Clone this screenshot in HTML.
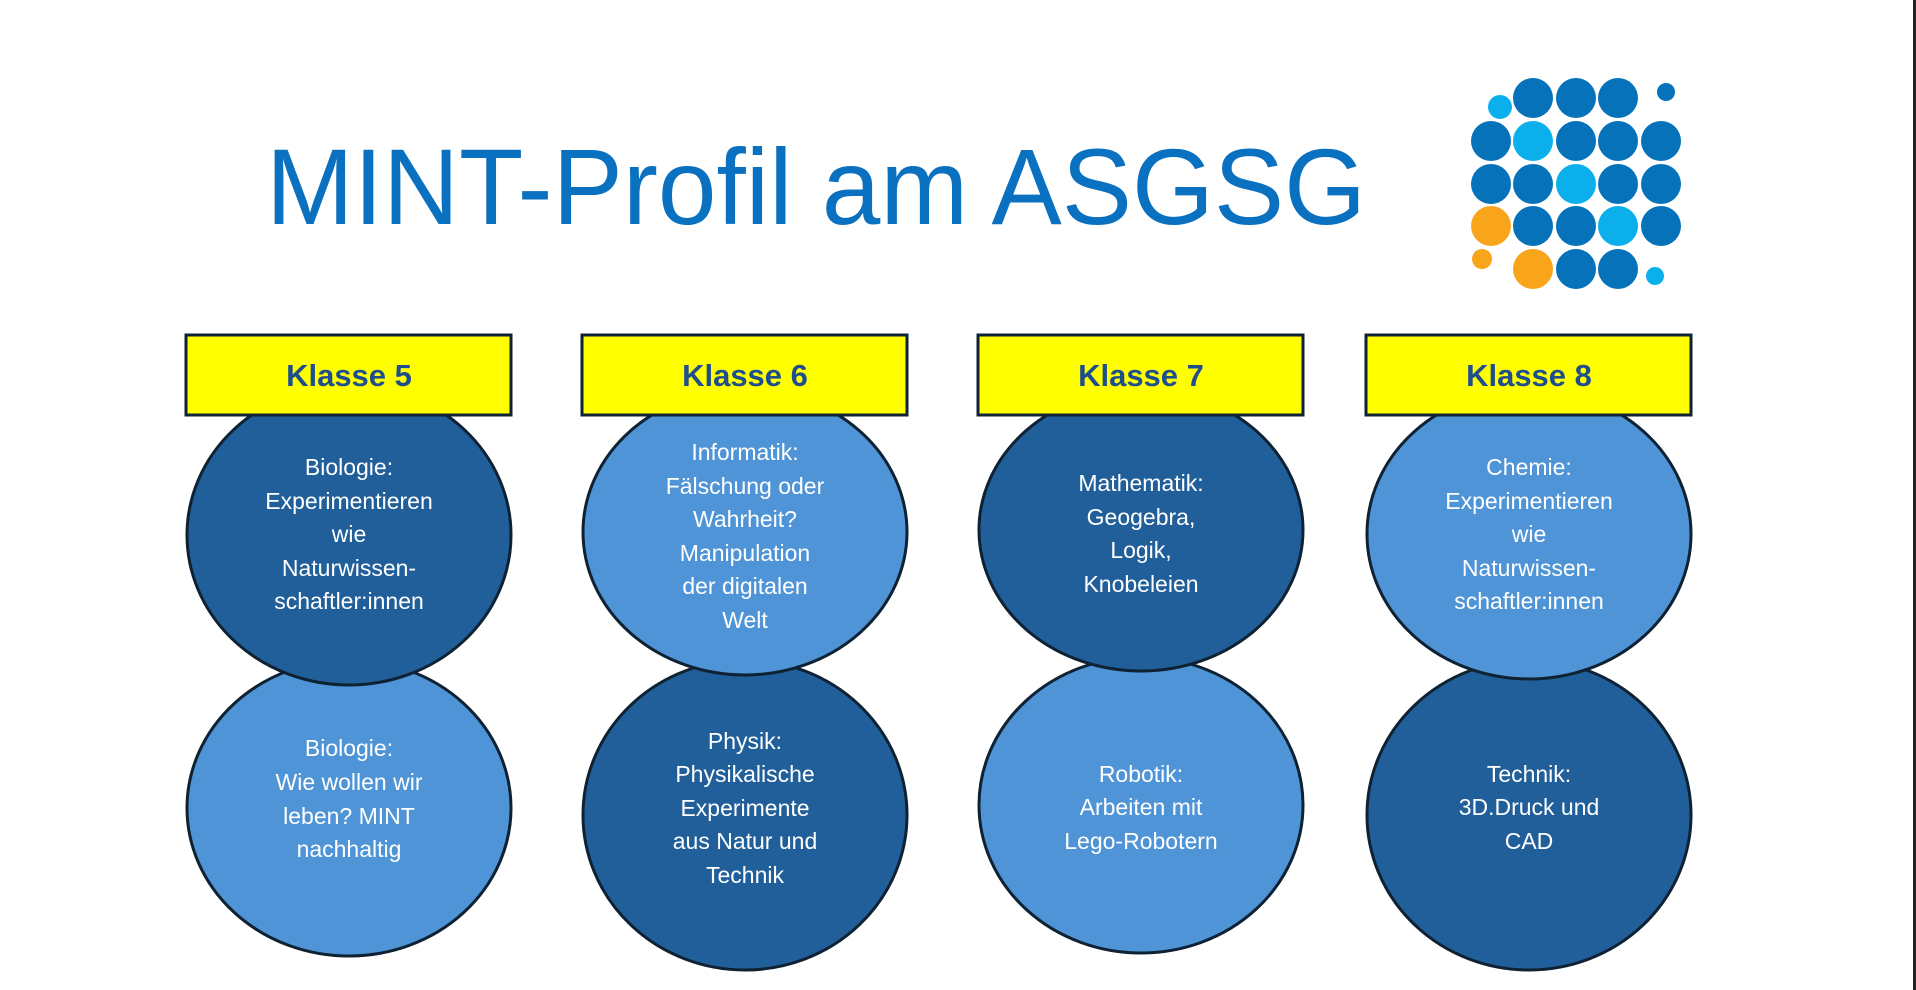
<!DOCTYPE html>
<html><head><meta charset="utf-8"><style>
body{margin:0;background:#fff;}
svg{display:block;font-family:"Liberation Sans",sans-serif;}
.t{fill:#fff;font-size:23px;text-anchor:middle;}
.h{fill:#1F4E8C;font-size:31px;font-weight:bold;text-anchor:middle;}
</style></head><body>
<svg width="1916" height="990" viewBox="0 0 1916 990">
<rect width="1916" height="990" fill="#fff"/>
<line x1="1914.5" y1="0" x2="1914.5" y2="990" stroke="#222" stroke-width="3"/>
<text x="816" y="224" fill="#0A70C0" font-size="108" text-anchor="middle" textLength="1100" lengthAdjust="spacingAndGlyphs">MINT-Profil am ASGSG</text>
<g>
<circle cx="1533" cy="98" r="20" fill="#0572BA"/><circle cx="1576" cy="98" r="20" fill="#0572BA"/><circle cx="1618" cy="98" r="20" fill="#0572BA"/>
<circle cx="1500" cy="107" r="12" fill="#0AAFEC"/><circle cx="1666" cy="92" r="9" fill="#0572BA"/>
<circle cx="1491" cy="141" r="20" fill="#0572BA"/><circle cx="1533" cy="141" r="20" fill="#0AAFEC"/><circle cx="1576" cy="141" r="20" fill="#0572BA"/><circle cx="1618" cy="141" r="20" fill="#0572BA"/><circle cx="1661" cy="141" r="20" fill="#0572BA"/>
<circle cx="1491" cy="184" r="20" fill="#0572BA"/><circle cx="1533" cy="184" r="20" fill="#0572BA"/><circle cx="1576" cy="184" r="20" fill="#0AAFEC"/><circle cx="1618" cy="184" r="20" fill="#0572BA"/><circle cx="1661" cy="184" r="20" fill="#0572BA"/>
<circle cx="1491" cy="226" r="20" fill="#F9A51B"/><circle cx="1533" cy="226" r="20" fill="#0572BA"/><circle cx="1576" cy="226" r="20" fill="#0572BA"/><circle cx="1618" cy="226" r="20" fill="#0AAFEC"/><circle cx="1661" cy="226" r="20" fill="#0572BA"/>
<circle cx="1482" cy="259" r="10" fill="#F9A51B"/><circle cx="1533" cy="269" r="20" fill="#F9A51B"/><circle cx="1576" cy="269" r="20" fill="#0572BA"/><circle cx="1618" cy="269" r="20" fill="#0572BA"/><circle cx="1655" cy="276" r="9" fill="#0AAFEC"/>
</g>
<g stroke="#0E2233" stroke-width="3">
<ellipse cx="349" cy="808" rx="162" ry="148" fill="#4F94D6"/>
<ellipse cx="349" cy="535" rx="162" ry="150" fill="#215F9A"/>
<ellipse cx="745" cy="815" rx="162" ry="155" fill="#215F9A"/>
<ellipse cx="745" cy="532" rx="162" ry="143" fill="#4F94D6"/>
<ellipse cx="1141" cy="805" rx="162" ry="148" fill="#4F94D6"/>
<ellipse cx="1141" cy="530" rx="162" ry="141" fill="#215F9A"/>
<ellipse cx="1529" cy="815" rx="162" ry="155" fill="#215F9A"/>
<ellipse cx="1529" cy="534" rx="162" ry="145" fill="#4F94D6"/>
<rect x="186" y="335" width="325" height="80" fill="#FFFF00"/>
<rect x="582" y="335" width="325" height="80" fill="#FFFF00"/>
<rect x="978" y="335" width="325" height="80" fill="#FFFF00"/>
<rect x="1366" y="335" width="325" height="80" fill="#FFFF00"/>
</g>
<text class="h" x="349" y="386">Klasse 5</text>
<text class="h" x="745" y="386">Klasse 6</text>
<text class="h" x="1141" y="386">Klasse 7</text>
<text class="h" x="1529" y="386">Klasse 8</text>
<g class="t">
<text x="349" y="475">Biologie:</text><text x="349" y="509">Experimentieren</text><text x="349" y="542">wie</text><text x="349" y="576">Naturwissen-</text><text x="349" y="609">schaftler:innen</text>
<text x="349" y="756">Biologie:</text><text x="349" y="790">Wie wollen wir</text><text x="349" y="824">leben? MINT</text><text x="349" y="857">nachhaltig</text>
<text x="745" y="460">Informatik:</text><text x="745" y="494">Fälschung oder</text><text x="745" y="527">Wahrheit?</text><text x="745" y="561">Manipulation</text><text x="745" y="594">der digitalen</text><text x="745" y="628">Welt</text>
<text x="745" y="749">Physik:</text><text x="745" y="782">Physikalische</text><text x="745" y="816">Experimente</text><text x="745" y="849">aus Natur und</text><text x="745" y="883">Technik</text>
<text x="1141" y="491">Mathematik:</text><text x="1141" y="525">Geogebra,</text><text x="1141" y="558">Logik,</text><text x="1141" y="592">Knobeleien</text>
<text x="1141" y="782">Robotik:</text><text x="1141" y="815">Arbeiten mit</text><text x="1141" y="849">Lego-Robotern</text>
<text x="1529" y="475">Chemie:</text><text x="1529" y="509">Experimentieren</text><text x="1529" y="542">wie</text><text x="1529" y="576">Naturwissen-</text><text x="1529" y="609">schaftler:innen</text>
<text x="1529" y="782">Technik:</text><text x="1529" y="815">3D.Druck und</text><text x="1529" y="849">CAD</text>
</g>
</svg>
</body></html>
